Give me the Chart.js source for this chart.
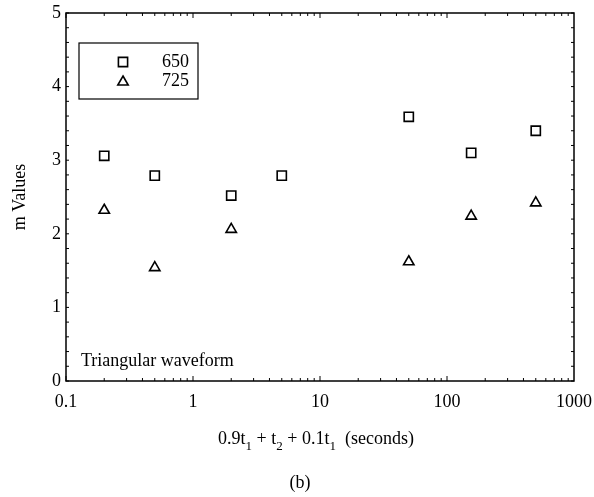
<!DOCTYPE html>
<html>
<head>
<meta charset="utf-8">
<script src="https://cdn.jsdelivr.net/npm/chart.js@4"></script>
<style>
  html, body { margin: 0; padding: 0; background: #fff; }
  #wrap { width: 594px; height: 497px; }
</style>
</head>
<body>
<div id="wrap"><canvas id="c" width="594" height="497"></canvas></div>
<script>
// data
const times = [0.2, 0.5, 2, 5, 50, 155, 500];
const m650 = [3.06, 2.79, 2.52, 2.79, 3.59, 3.10, 3.40];
const times725 = [0.2, 0.5, 2, 50, 155, 500];
const m725 = [2.32, 1.54, 2.06, 1.62, 2.24, 2.42];
const xTicks = [0.1, 1, 10, 100, 1000];
const yTicks = [0, 1, 2, 3, 4, 5];

const serif = '"Liberation Serif", "DejaVu Serif", serif';

function pts(xs, ys) {
  return xs.map((x, i) => ({ x: x, y: ys[i] }));
}

// frame, inward tick marks, legend box and extra texts
const decor = {
  id: 'decor',
  afterDraw(chart) {
    const c = chart.ctx;
    const a = chart.chartArea;
    const xs = chart.scales.x, ys = chart.scales.y;
    c.save();
    c.strokeStyle = '#000';
    c.lineWidth = 1.5;
    c.strokeRect(a.left, a.top, a.right - a.left, a.bottom - a.top);

    c.lineWidth = 1;
    c.beginPath();
    for (let d = 0.1; d < 1000; d *= 10) {
      for (let k = 1; k < 10; k++) {
        const px = xs.getPixelForValue(d * k);
        const len = k === 1 ? 5 : 3;
        c.moveTo(px, a.bottom); c.lineTo(px, a.bottom - len);
        c.moveTo(px, a.top); c.lineTo(px, a.top + len);
      }
    }
    for (let v = 0; v <= 5.001; v += 0.2) {
      const py = ys.getPixelForValue(v);
      c.moveTo(a.left, py); c.lineTo(a.left + 3, py);
      c.moveTo(a.right, py); c.lineTo(a.right - 3, py);
    }
    c.stroke();

    // legend
    c.lineWidth = 1.2;
    c.strokeRect(79, 43, 119, 56);
    c.font = '18px ' + serif;
    c.textAlign = 'right';
    c.textBaseline = 'middle';
    chart.data.datasets.forEach((ds, i) => {
      const y = 62 + i * 19;
      c.lineWidth = 1.6;
      c.fillStyle = 'rgba(0,0,0,0)';
      Chart.helpers.drawPoint(c, { pointStyle: ds.pointStyle, radius: ds.pointRadius, borderWidth: 1.6 }, 123, y + (i ? 1 : 0));
      c.fillStyle = '#000';
      c.fillText(ds.label, 189, y);
    });

    c.textAlign = 'left';
    c.fillText('Triangular waveform', 81, 361);

    // y title
    c.save();
    c.translate(20, 197);
    c.rotate(-Math.PI / 2);
    c.textAlign = 'center';
    c.fillText('m Values', 0, 0);
    c.restore();

    // x title with subscripts
    const parts = [['0.9t', 0], ['1', 1], [' + t', 0], ['2', 1], [' + 0.1t', 0], ['1', 1], ['  (seconds)', 0]];
    const big = '18px ' + serif, small = '13px ' + serif;
    let w = 0;
    parts.forEach(p => { c.font = p[1] ? small : big; w += c.measureText(p[0]).width; });
    let x = 316 - w / 2;
    c.textAlign = 'left';
    c.textBaseline = 'alphabetic';
    parts.forEach(p => {
      c.font = p[1] ? small : big;
      c.fillText(p[0], x, p[1] ? 450 : 444);
      x += c.measureText(p[0]).width;
    });

    c.font = big;
    c.textAlign = 'center';
    c.textBaseline = 'middle';
    c.fillText('(b)', 300, 483);
    c.restore();
  }
};

new Chart(document.getElementById('c'), {
  type: 'scatter',
  data: {
    datasets: [{
      label: '650',
      data: pts(times, m650),
      pointStyle: 'rect',
      pointRadius: 6.5,
      pointHoverRadius: 6.5,
      borderColor: '#000',
      backgroundColor: 'rgba(0,0,0,0)',
      borderWidth: 1.6
    }, {
      label: '725',
      data: pts(times725, m725),
      pointStyle: 'triangle',
      pointRadius: 6,
      pointHoverRadius: 6,
      borderColor: '#000',
      backgroundColor: 'rgba(0,0,0,0)',
      borderWidth: 1.6
    }]
  },
  options: {
    responsive: false,
    animation: false,
    layout: { padding: { left: 0, top: 13, right: 20, bottom: 0 } },
    plugins: { legend: { display: false }, tooltip: { enabled: false } },
    scales: {
      x: {
        type: 'logarithmic',
        min: 0.1,
        max: 1000,
        grid: { display: false, drawTicks: false },
        border: { display: false },
        afterBuildTicks: s => { s.ticks = xTicks.map(v => ({ value: v })); },
        afterFit: s => { s.height = 116; s.paddingRight = 0; s.paddingLeft = 0; },
        ticks: {
          color: '#000',
          font: { family: serif, size: 18 },
          padding: 10,
          maxRotation: 0,
          autoSkip: false,
          callback: v => String(v)
        }
      },
      y: {
        min: 0,
        max: 5,
        grid: { display: false, drawTicks: false },
        border: { display: false },
        afterBuildTicks: s => { s.ticks = yTicks.map(v => ({ value: v })); },
        afterFit: s => { s.width = 66; s.paddingTop = 0; s.paddingBottom = 0; },
        ticks: {
          color: '#000',
          font: { family: serif, size: 18 },
          padding: 5
        }
      }
    }
  },
  plugins: [decor]
});
</script>
</body>
</html>
